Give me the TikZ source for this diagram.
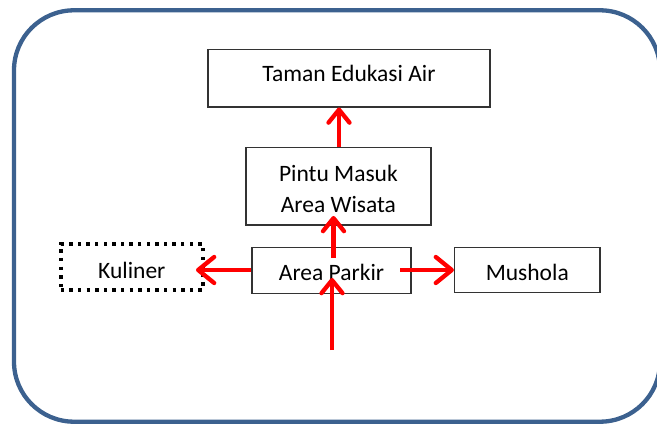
\documentclass[tikz,border=0pt]{standalone}
\usepackage{fontspec}
\setmainfont{Carlito}
\usetikzlibrary{arrows.meta}
\definecolor{frameblue}{RGB}{60,97,143}
\begin{document}
\begin{tikzpicture}[x=1pt,y=-1pt,
  box/.style={draw=black!80, line width=1.2pt, rectangle, inner sep=0pt,
    font=\fontsize{23.5}{31.3}\selectfont, align=center, text depth=0pt},
  dotbox/.style={box, draw=black, line width=3.4pt, dash pattern=on 3.4pt off 5.2pt},
  redv/.style={draw=red, line width=4.3pt,
    -{Straight Barb[length=13pt,width=21pt,line cap=round,line join=round]}},
  redh/.style={draw=red, line width=4.3pt,
    -{Straight Barb[length=16pt,width=26pt,line cap=round,line join=round]}}]
\useasboundingbox (0,0) rectangle (657,425);
\begin{scope}
  \clip (0,0) rectangle (657,425);
  \draw[frameblue, line width=4.3pt, rounded corners=60pt] (14,10.3) rectangle (660,421.7);
\end{scope}

\node[box, minimum width=282pt, minimum height=57.5pt, text height=7pt] (taman) at (349,78.2) {Taman Edukasi Air};
\node[box, minimum width=185pt, minimum height=77.5pt, text height=22.3pt, text depth=31.3pt] (pintu) at (338.4,186.2)
  {\begin{tabular}[t]{@{}c@{}}Pintu Masuk\\Area Wisata\end{tabular}};
\node[box, minimum width=159pt, minimum height=45.5pt, text height=19pt] (parkir) at (331.5,270.5) {Area Parkir};
\node[dotbox, minimum width=142pt, minimum height=46pt, text height=22.6pt] (kuliner) at (131.8,267) {Kuliner};
\node[box, minimum width=145.5pt, minimum height=45.5pt, text height=20pt] (mushola) at (527.3,270) {Mushola};

\coordinate (tamanin) at (339,107.5);
\coordinate (pintuin) at (333.5,216);
\coordinate (parkirup) at (333.5,258);
\coordinate (parkirin) at (332,278);
\coordinate (entry) at (332,350);
\coordinate (parkirright) at (400,270);
\coordinate (kulinerin) at (196,270);

\draw[redv] (pintu.north -| tamanin) -- (tamanin);
\draw[redv] (parkirup) -- (pintuin);
\draw[redv] (entry) -- (parkirin);
\draw[redh] (parkir.west |- kulinerin) -- (kulinerin);
\draw[redh] (parkirright) -- (mushola.west |- parkirright);
\end{tikzpicture}
\end{document}
